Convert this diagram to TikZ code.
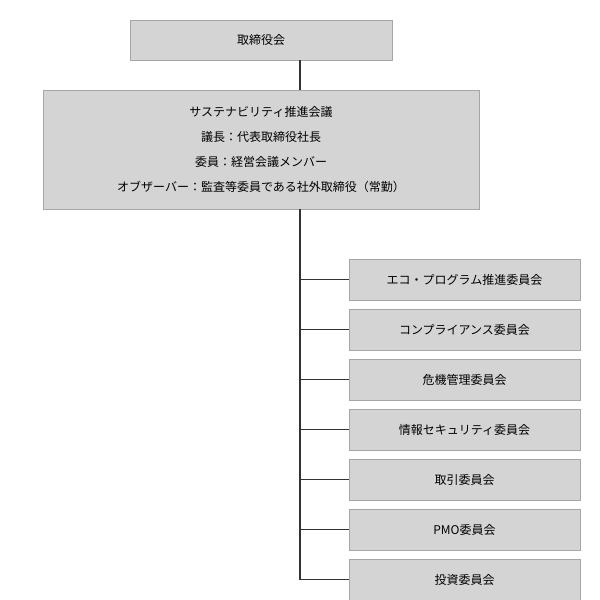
\documentclass[tikz,border=0pt]{standalone}
\usepackage{fontspec}
\setmainfont{Noto Sans CJK JP}
\begin{document}
\begin{tikzpicture}[x=1pt,y=-1pt,
  box/.style={draw=black!35,fill=black!17,line width=0.8pt,inner sep=0pt,font=\fontsize{12}{14}\selectfont},
  conn/.style={draw=black!80,line width=1.3pt}]
\useasboundingbox (0,0) rectangle (600,600);
\node[box,minimum width=262,minimum height=40] (board) at (261,40) {取締役会};
\node[box,minimum width=436,minimum height=119,align=center,font=\fontsize{12}{25}\selectfont] (council) at (261,149.5)
 {サステナビリティ推進会議\\議長：代表取締役社長\\委員：経営会議メンバー\\オブザーバー：監査等委員である社外取締役（常勤）};
\draw[conn] (board.south -| 300,0) -- (council.north -| 300,0);
\foreach \t [count=\i from 0] in {エコ・プログラム推進委員会,コンプライアンス委員会,危機管理委員会,情報セキュリティ委員会,取引委員会,PMO委員会,投資委員会}{
  \node[box,minimum width=231,minimum height=41] (c\i) at (464.5,279.5+50*\i) {\t};
  \draw[conn] (300,279.5+50*\i) -- (c\i.west);
}
\draw[conn] (council.south -| 300,0) -- (300,579.5+0.65);
\end{tikzpicture}
\end{document}
